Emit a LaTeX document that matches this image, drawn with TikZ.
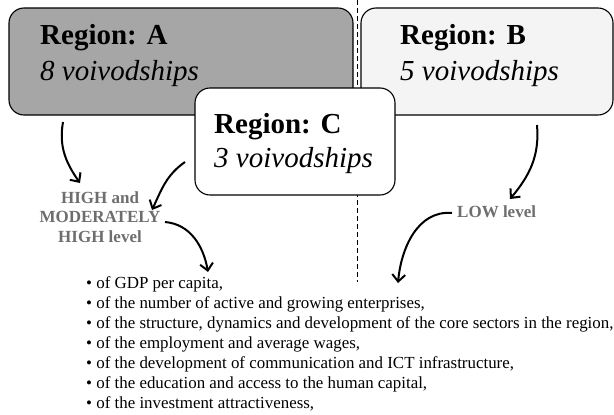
\documentclass[tikz,border=0pt]{standalone}
\usepackage{fontspec}
\setmainfont{Liberation Serif}
\usetikzlibrary{arrows.meta}
\definecolor{regiona}{HTML}{A6A6A6}
\definecolor{regionb}{HTML}{F4F4F4}
\definecolor{levelgray}{HTML}{6E6E6E}
\tikzset{
  region/.style={draw, rounded corners=15pt, line width=1.1pt, inner sep=0pt, minimum height=107pt},
  title/.style={anchor=base west, inner sep=0pt, font=\fontsize{29}{33}\selectfont\bfseries},
  count/.style={anchor=base west, inner sep=0pt, font=\fontsize{29}{33}\selectfont\itshape},
  level/.style={inner sep=0pt, text=levelgray, font=\fontsize{17}{19.5}\selectfont\bfseries},
  item/.style={anchor=base west, inner sep=0pt, font=\fontsize{16.9}{20}\selectfont},
  curvearrow/.style={line width=2pt, -{Straight Barb[length=7pt,width=13pt]}}
}
\begin{document}
\begin{tikzpicture}[x=1pt, y=1pt]
    \useasboundingbox (0, 0) rectangle (614, -415);

    \coordinate (d0) at (357, 0);
    \coordinate (d1) at (357, -282);
    \draw[dash pattern=on 5pt off 3pt, line width=0.9pt] (d0) -- (d1);

    \node[region, fill=regiona, minimum width=344pt] at (181, -61.5) (boxA) {};
    \node[region, fill=regionb, minimum width=252pt] at (487, -61.5) (boxB) {};
    \node[region, fill=white, minimum width=200pt] at (295, -141.5) (boxC) {};

    \node[title] at (40, -45) (titleA) {Region: A};
    \node[count] at (40, -80) (countA) {8 voivodships};
    \node[title] at (400, -45) (titleB) {Region: B};
    \node[count] at (400, -80) (countB) {5 voivodships};
    \node[title] at (214, -133) (titleC) {Region: C};
    \node[count] at (214, -167) (countC) {3 voivodships};

    \node[level, align=center, anchor=base] at (100, -242) (high) {HIGH and\\MODERATELY\\HIGH level};
    \node[level, anchor=base west] at (457, -217) (low) {LOW level};

    \node[item] at (86, -288) (l1) {• of GDP per capita,};
    \node[item] at (86, -308) (l2) {• of the number of active and growing enterprises,};
    \node[item] at (86, -328) (l3) {• of the structure, dynamics and development of the core sectors in the region,};
    \node[item] at (86, -348) (l4) {• of the employment and average wages,};
    \node[item] at (86, -368) (l5) {• of the development of communication and ICT infrastructure,};
    \node[item] at (86, -388) (l6) {• of the education and access to the human capital,};
    \node[item] at (86, -408) (l7) {• of the investment attractiveness,};

    \coordinate (a0) at (63, -122);
    \coordinate (a1) at (80, -183);
    \coordinate (c0) at (185, -162);
    \coordinate (c1) at (152, -210);
    \coordinate (b0) at (537, -125);
    \coordinate (b1) at (510, -199);
    \coordinate (h0) at (165, -222);
    \coordinate (h1) at (208, -272);
    \coordinate (w0) at (452, -213);
    \coordinate (w1) at (398, -283);

    \draw[curvearrow] (a0) to[out=-100, in=125] (a1);
    \draw[curvearrow] (c0) to[out=-145, in=65] (c1);
    \draw[curvearrow] (b0) to[out=-85, in=50] (b1);
    \draw[curvearrow] (h0) to[out=-5, in=100] (h1);
    \draw[curvearrow] (w0) to[out=175, in=85] (w1);

  \end{tikzpicture}
\end{document}
